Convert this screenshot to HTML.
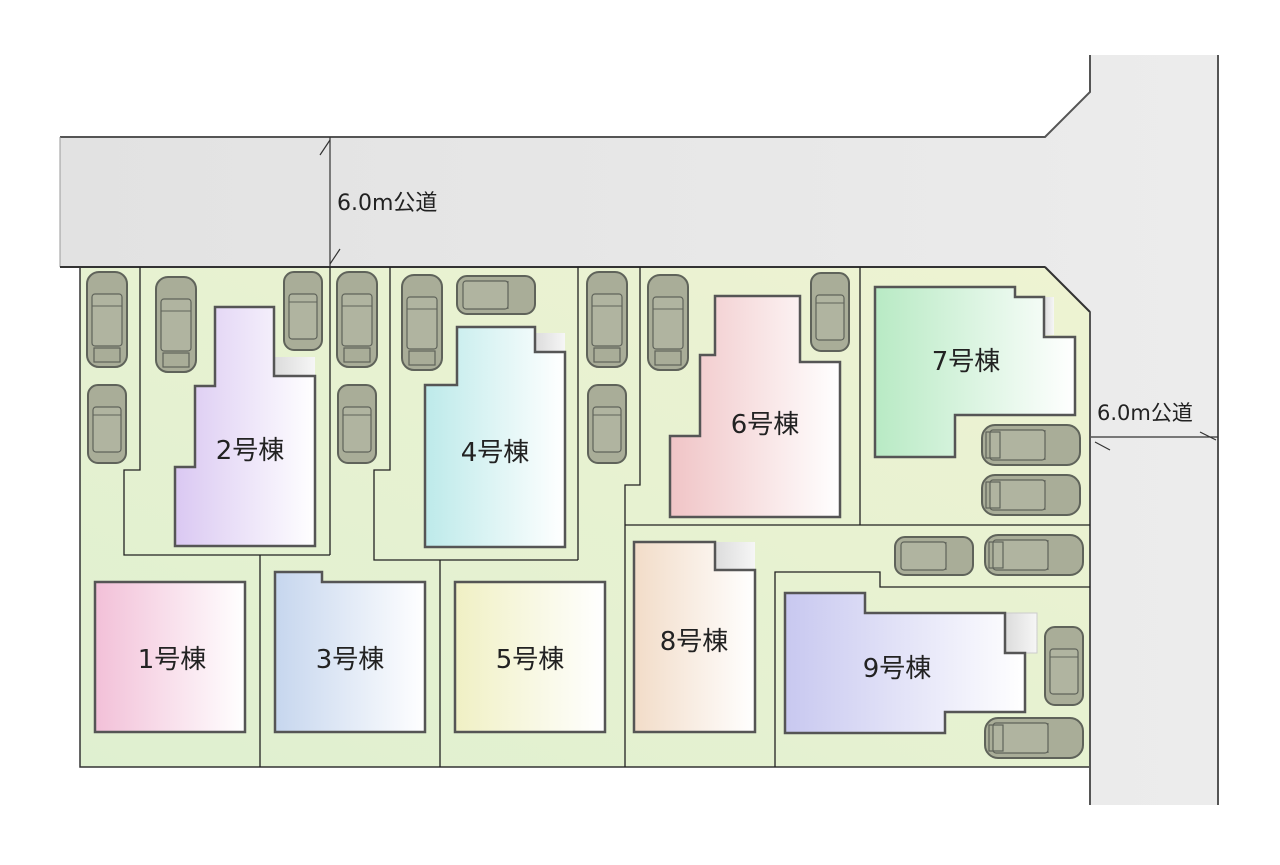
<!DOCTYPE html>
<html><head><meta charset="utf-8"><style>
html,body{margin:0;padding:0;background:#fff;}
svg{display:block;}
text{font-family:"DejaVu Sans","Noto Sans CJK JP",sans-serif;fill:#222;}
</style></head><body>
<svg width="1280" height="865" viewBox="0 0 1280 865" xmlns="http://www.w3.org/2000/svg">
<defs>
<linearGradient id="road" x1="0" y1="0" x2="1" y2="0"><stop offset="0" stop-color="#e2e2e2"/><stop offset="1" stop-color="#ececec"/></linearGradient>
<linearGradient id="site" x1="0" y1="1" x2="1" y2="0"><stop offset="0" stop-color="#dff0d0"/><stop offset="1" stop-color="#eef3d2"/></linearGradient>
<linearGradient id="g2"><stop offset="0" stop-color="#dac8f2"/><stop offset="1" stop-color="#fff"/></linearGradient>
<linearGradient id="g4"><stop offset="0" stop-color="#bdeaea"/><stop offset="1" stop-color="#fff"/></linearGradient>
<linearGradient id="g6"><stop offset="0" stop-color="#f0c4c6"/><stop offset="1" stop-color="#fff"/></linearGradient>
<linearGradient id="g7"><stop offset="0" stop-color="#b8eac4"/><stop offset="1" stop-color="#fff"/></linearGradient>
<linearGradient id="g1"><stop offset="0" stop-color="#f2c0d8"/><stop offset="1" stop-color="#fff"/></linearGradient>
<linearGradient id="g3"><stop offset="0" stop-color="#c6d6ee"/><stop offset="1" stop-color="#fff"/></linearGradient>
<linearGradient id="g5"><stop offset="0" stop-color="#f0f0c4"/><stop offset="1" stop-color="#fff"/></linearGradient>
<linearGradient id="g8"><stop offset="0" stop-color="#f2dcc8"/><stop offset="1" stop-color="#fff"/></linearGradient>
<linearGradient id="g9"><stop offset="0" stop-color="#c8c8f0"/><stop offset="1" stop-color="#fff"/></linearGradient>
<linearGradient id="gr"><stop offset="0" stop-color="#dcdcdc"/><stop offset="1" stop-color="#f6f6f6"/></linearGradient>
<g id="cv">
<rect x="-20" y="0" width="40" height="95" rx="12" fill="#a9ad98" stroke="#5f635a" stroke-width="2"/>
<rect x="-15" y="22" width="30" height="52" rx="3" fill="#b0b4a0" stroke="#5f635a" stroke-width="1.2"/>
<rect x="-13" y="76" width="26" height="14" fill="none" stroke="#5f635a" stroke-width="1.2"/>
<line x1="-15" y1="34" x2="15" y2="34" stroke="#5f635a" stroke-width="1"/>
</g>
<g id="cs">
<rect x="-19" y="0" width="38" height="78" rx="10" fill="#a9ad98" stroke="#5f635a" stroke-width="2"/>
<rect x="-14" y="22" width="28" height="45" rx="3" fill="#b0b4a0" stroke="#5f635a" stroke-width="1.2"/>
<line x1="-14" y1="30" x2="14" y2="30" stroke="#5f635a" stroke-width="1"/>
</g>
<g id="ch">
<rect x="0" y="-20" width="98" height="40" rx="13" fill="#a9ad98" stroke="#5f635a" stroke-width="2"/>
<rect x="8" y="-15" width="55" height="30" rx="3" fill="#b0b4a0" stroke="#5f635a" stroke-width="1.2"/>
<rect x="4" y="-13" width="14" height="26" fill="none" stroke="#5f635a" stroke-width="1.2"/>
<line x1="63" y1="-15" x2="63" y2="15" stroke="#5f635a" stroke-width="1"/>
</g>
<g id="chs">
<rect x="0" y="-19" width="78" height="38" rx="10" fill="#a9ad98" stroke="#5f635a" stroke-width="2"/>
<rect x="6" y="-14" width="45" height="28" rx="3" fill="#b0b4a0" stroke="#5f635a" stroke-width="1.2"/>
<line x1="51" y1="-14" x2="51" y2="14" stroke="#5f635a" stroke-width="1"/>
</g>
</defs>

<polygon points="60,137 1045,137 1090,92 1090,55 1218,55 1218,805 1090,805 1090,312 1045,267 60,267" fill="url(#road)"/>
<polyline points="60,137 1045,137 1090,92 1090,55" fill="none" stroke="#555" stroke-width="2"/>
<line x1="1218" y1="55" x2="1218" y2="805" stroke="#555" stroke-width="2"/>
<line x1="60" y1="137" x2="60" y2="267" stroke="#999" stroke-width="1"/>
<line x1="330" y1="137" x2="330" y2="267" stroke="#333" stroke-width="1.2"/>
<line x1="320" y1="155" x2="330" y2="140" stroke="#333" stroke-width="1.2"/>
<line x1="330" y1="264" x2="340" y2="249" stroke="#333" stroke-width="1.2"/>
<text x="337" y="210" font-size="22">6.0m公道</text>
<line x1="1090" y1="437" x2="1218" y2="437" stroke="#333" stroke-width="1.2"/>
<line x1="1095" y1="442" x2="1110" y2="450" stroke="#333" stroke-width="1.2"/>
<line x1="1200" y1="432" x2="1216" y2="440" stroke="#333" stroke-width="1.2"/>
<text x="1097" y="420" font-size="21">6.0m公道</text>

<polygon points="80,267 1045,267 1090,312 1090,767 80,767" fill="url(#site)" stroke="#333" stroke-width="1.5"/>
<line x1="60" y1="267" x2="1045" y2="267" stroke="#333" stroke-width="2"/>
<line x1="1045" y1="267" x2="1090" y2="312" stroke="#333" stroke-width="2"/>
<line x1="1090" y1="312" x2="1090" y2="805" stroke="#555" stroke-width="2"/>

<g fill="none" stroke="#222" stroke-width="1.3">
<polyline points="140,267 140,470 124,470 124,555 330,555"/>
<line x1="330" y1="267" x2="330" y2="555"/>
<line x1="260" y1="555" x2="260" y2="767"/>
<polyline points="390,267 390,470 374,470 374,560 578,560"/>
<line x1="578" y1="267" x2="578" y2="560"/>
<line x1="440" y1="560" x2="440" y2="767"/>
<polyline points="640,267 640,485 625,485 625,767"/>
<line x1="625" y1="525" x2="1090" y2="525"/>
<line x1="860" y1="267" x2="860" y2="525"/>
<polyline points="775,767 775,572 880,572 880,587 1090,587"/>
</g>

<use href="#cv" x="107" y="272"/>
<use href="#cs" x="107" y="385"/>
<use href="#cv" x="176" y="277"/>
<use href="#cs" x="303" y="272"/>
<use href="#cv" x="357" y="272"/>
<use href="#cs" x="357" y="385"/>
<use href="#cv" x="422" y="275"/>
<use href="#chs" x="457" y="295"/>
<use href="#cv" x="607" y="272"/>
<use href="#cs" x="607" y="385"/>
<use href="#cv" x="668" y="275"/>
<use href="#cs" x="830" y="273"/>
<use href="#ch" x="982" y="445"/>
<use href="#ch" x="982" y="495"/>
<use href="#chs" x="895" y="556"/>
<use href="#ch" x="985" y="555"/>
<use href="#cs" x="1064" y="627"/>
<use href="#ch" x="985" y="738"/>

<g stroke="#555" stroke-width="2.5">
<rect x="275" y="357" width="40" height="19" fill="url(#gr)" stroke="none"/>
<polygon points="215,307 274,307 274,376 315,376 315,546 175,546 175,467 195,467 195,386 215,386" fill="url(#g2)"/>
<rect x="535" y="333" width="30" height="19" fill="url(#gr)" stroke="none"/>
<polygon points="457,327 535,327 535,352 565,352 565,547 425,547 425,385 457,385" fill="url(#g4)"/>
<rect x="828" y="362" width="10" height="28" fill="url(#gr)" stroke="none"/>
<polygon points="715,296 800,296 800,362 840,362 840,517 670,517 670,436 700,436 700,355 715,355" fill="url(#g6)"/>
<rect x="1044" y="297" width="10" height="38" fill="url(#gr)" stroke="none"/>
<polygon points="875,287 1015,287 1015,297 1044,297 1044,337 1075,337 1075,415 955,415 955,457 875,457" fill="url(#g7)"/>
<rect x="97" y="582" width="38" height="8" fill="url(#gr)" stroke="none"/>
<polygon points="95,582 245,582 245,732 95,732" fill="url(#g1)"/>
<polygon points="275,572 322,572 322,582 425,582 425,732 275,732" fill="url(#g3)"/>
<rect x="455" y="582" width="150" height="150" fill="url(#g5)"/>
<rect x="715" y="542" width="40" height="28" fill="url(#gr)" stroke="none"/>
<polygon points="634,542 715,542 715,570 755,570 755,732 634,732" fill="url(#g8)"/>
<rect x="1005" y="613" width="32" height="40" fill="url(#gr)" stroke="#ccc" stroke-width="1"/>
<polygon points="785,593 865,593 865,613 1005,613 1005,653 1025,653 1025,712 945,712 945,733 785,733" fill="url(#g9)"/>
</g>

<g font-size="26" text-anchor="middle">
<text x="250" y="459">2号棟</text>
<text x="495" y="461">4号棟</text>
<text x="765" y="433">6号棟</text>
<text x="966" y="370">7号棟</text>
<text x="172" y="668">1号棟</text>
<text x="350" y="668">3号棟</text>
<text x="530" y="668">5号棟</text>
<text x="694" y="650">8号棟</text>
<text x="897" y="677">9号棟</text>
</g>
</svg>
</body></html>
